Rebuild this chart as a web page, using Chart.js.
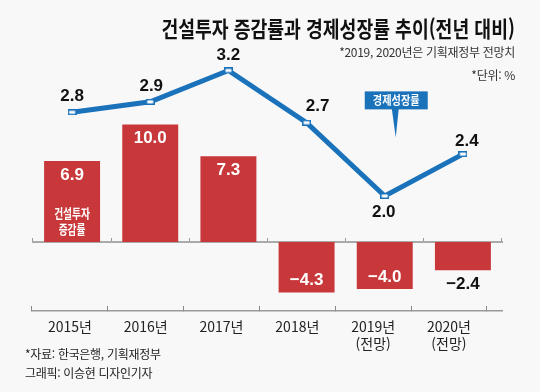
<!DOCTYPE html>
<html lang="ko">
<head>
<meta charset="utf-8">
<script src="https://cdn.jsdelivr.net/npm/chart.js@4.4.1/dist/chart.umd.min.js"></script>
<style>
  html, body { margin: 0; padding: 0; background: #f8f8f8; }
  #wrap { position: relative; width: 540px; height: 392px; overflow: hidden; font-family: "Noto Sans CJK KR", sans-serif; }
  #chart { position: absolute; left: 0; top: 0; }
  .title { position: absolute; right: 25px; top: 16px; font-size: 22px; font-weight: bold; color: #111; white-space: nowrap; line-height: 1; transform: scaleX(0.83); transform-origin: right center; }
  .note { position: absolute; right: 25px; font-size: 12px; color: #333; white-space: nowrap; line-height: 1; letter-spacing: -0.3px; }
  .source { position: absolute; left: 25px; font-size: 12px; color: #222; white-space: nowrap; line-height: 1; letter-spacing: -0.3px; }
</style>
</head>
<body>
<div id="wrap">
  <canvas id="chart" width="540" height="392"></canvas>
  <div class="title">건설투자 증감률과 경제성장률 추이(전년 대비)</div>
  <div class="note" style="top:46px">*2019, 2020년은 기획재정부 전망치</div>
  <div class="note" style="top:69px">*단위: %</div>
  <div class="source" style="top:348px">*자료: 한국은행, 기획재정부</div>
  <div class="source" style="top:367px">그래픽: 이승현 디자인기자</div>
</div>
<script>
// data
const years = ['2015년', '2016년', '2017년', '2018년', ['2019년', '(전망)'], ['2020년', '(전망)']];
const constructionInvestment = [6.9, 10.0, 7.3, -4.3, -4.0, -2.4];
const gdpGrowth = [2.8, 2.9, 3.2, 2.7, 2.0, 2.4];

// label nudges for the growth line (px)
const lineLabelDx = [0, 1, 0, 11, -1, 4];
const lineLabelDy = [-16, -16, -15, -16, 16, -13];

const BAR = '#c8383a';
const LINE = '#1a72bb';
const NUM_FONT = 'bold 17px "Liberation Sans Narrow", "Liberation Sans", sans-serif';
const KR_FONT = 'bold 13px "Noto Sans CJK KR", sans-serif';

// small white box used as point marker
const marker = document.createElement('canvas');
marker.width = 9;
marker.height = 6;
{
    const m = marker.getContext('2d');
    m.fillStyle = LINE;
    m.fillRect(0, 0, 9, 6);
    m.fillStyle = '#fff';
    m.fillRect(1.5, 1.5, 6, 3);
}

function fmt(v) {
    const s = Math.abs(v).toFixed(1);
    return v < 0 ? '\u2212' + s : s;
}

function drawText(ctx, str, x, y, font, color, sx) {
    ctx.save();
    ctx.translate(x, y);
    ctx.scale(sx, 1);
    ctx.font = font;
    ctx.fillStyle = color;
    ctx.fillText(str, 0, 0);
    ctx.restore();
}

const labelPlugin = {
    id: 'valueLabels',
    afterDatasetsDraw(chart) {
        const { ctx, scales } = chart;
        const x = scales.x, y = scales.y, y2 = scales.y2;
        ctx.save();
        ctx.textAlign = 'center';
        ctx.textBaseline = 'middle';

        constructionInvestment.forEach((v, i) => {
            const px = x.getPixelForValue(i);
            const py = y.getPixelForValue(v);
            if (v > 0) drawText(ctx, fmt(v), px, py + 14, NUM_FONT, '#fff', 1);
            else if (v < -3) drawText(ctx, fmt(v), px, py - 12, NUM_FONT, '#fff', 1);
            else drawText(ctx, fmt(v), px, py + 14, NUM_FONT, '#111', 1);
        });

        // series name inside the first bar
        const zero = y.getPixelForValue(0);
        const x0 = x.getPixelForValue(0);
        drawText(ctx, '건설투자', x0, zero - 29, KR_FONT, '#fff', 0.75);
        drawText(ctx, '증감률', x0, zero - 13, KR_FONT, '#fff', 0.75);

        gdpGrowth.forEach((v, i) => {
            const px = x.getPixelForValue(i) + lineLabelDx[i];
            const py = y2.getPixelForValue(v) + lineLabelDy[i];
            drawText(ctx, v.toFixed(1), px, py, NUM_FONT, '#111', 1);
        });

        // callout for the growth line
        const cx = x.getPixelForValue(4) + 11;
        const top = y2.getPixelForValue(3.0);
        ctx.fillStyle = LINE;
        ctx.fillRect(cx - 31, top, 63, 18);
        ctx.beginPath();
        ctx.moveTo(cx - 4, top + 17);
        ctx.lineTo(cx + 3, top + 17);
        ctx.lineTo(cx, top + 46);
        ctx.closePath();
        ctx.fill();
        drawText(ctx, '경제성장률', cx + 0.5, top + 9.5, 'bold 12px "Noto Sans CJK KR", sans-serif', '#fff', 0.85);

        ctx.restore();
    }
};

const ctx = document.getElementById('chart').getContext('2d');
new Chart(ctx, {
    type: 'bar',
    data: {
        labels: years.map(l => Array.isArray(l) ? l.join(' ') : l),
        datasets: [{
            type: 'line',
            label: '경제성장률',
            data: gdpGrowth,
            yAxisID: 'y2',
            borderColor: LINE,
            borderWidth: 5,
            pointStyle: marker,
            pointRadius: 5,
            tension: 0,
            order: 0,
        }, {
            type: 'bar',
            label: '건설투자 증감률',
            data: constructionInvestment,
            yAxisID: 'y',
            backgroundColor: BAR,
            barPercentage: 0.716,
            categoryPercentage: 1,
            order: 1,
        }],
    },
    options: {
        responsive: false,
        animation: false,
        devicePixelRatio: 1,
        layout: { padding: { left: 33, right: 38, top: 60, bottom: 0 } },
        plugins: {
            legend: { display: false },
            tooltip: { enabled: false },
        },
        scales: {
            x: {
                position: { y: 0 },
                offset: true,
                grid: { offset: true, drawOnChartArea: false, tickLength: -5, color: '#999', lineWidth: 1 },
                border: { color: '#aaa', width: 2 },
                ticks: { display: false },
            },
            // bottom axis only carries the year labels
            x2: {
                type: 'linear',
                position: 'bottom',
                offset: false,
                min: 0.0132,
                max: 6.2,
                afterBuildTicks: s => {
                    s.ticks = Array.from({ length: 13 }, (_, k) => ({ value: k / 2 }));
                },
                afterFit: s => { s.height = 81; },
                grid: {
                    offset: false,
                    drawOnChartArea: false,
                    tickLength: -5,
                    color: c => (c.tick && c.tick.value % 1 === 0) ? '#888' : 'rgba(0,0,0,0)',
                },
                border: { color: '#999', width: 1.5 },
                ticks: {
                    autoSkip: false,
                    maxRotation: 0,
                    padding: 12,
                    color: '#222',
                    font: { family: '"Liberation Sans Narrow", "Noto Sans CJK KR", sans-serif', size: 14 },
                    callback: v => (v % 1 === 0.5) ? years[Math.floor(v)] : '',
                },
            },
            y: { display: false, min: -5.87, max: 15.49 },
            y2: { display: false, min: 0.9, max: 3.3 },
        },
    },
    plugins: [labelPlugin],
});
</script>
</body>
</html>
